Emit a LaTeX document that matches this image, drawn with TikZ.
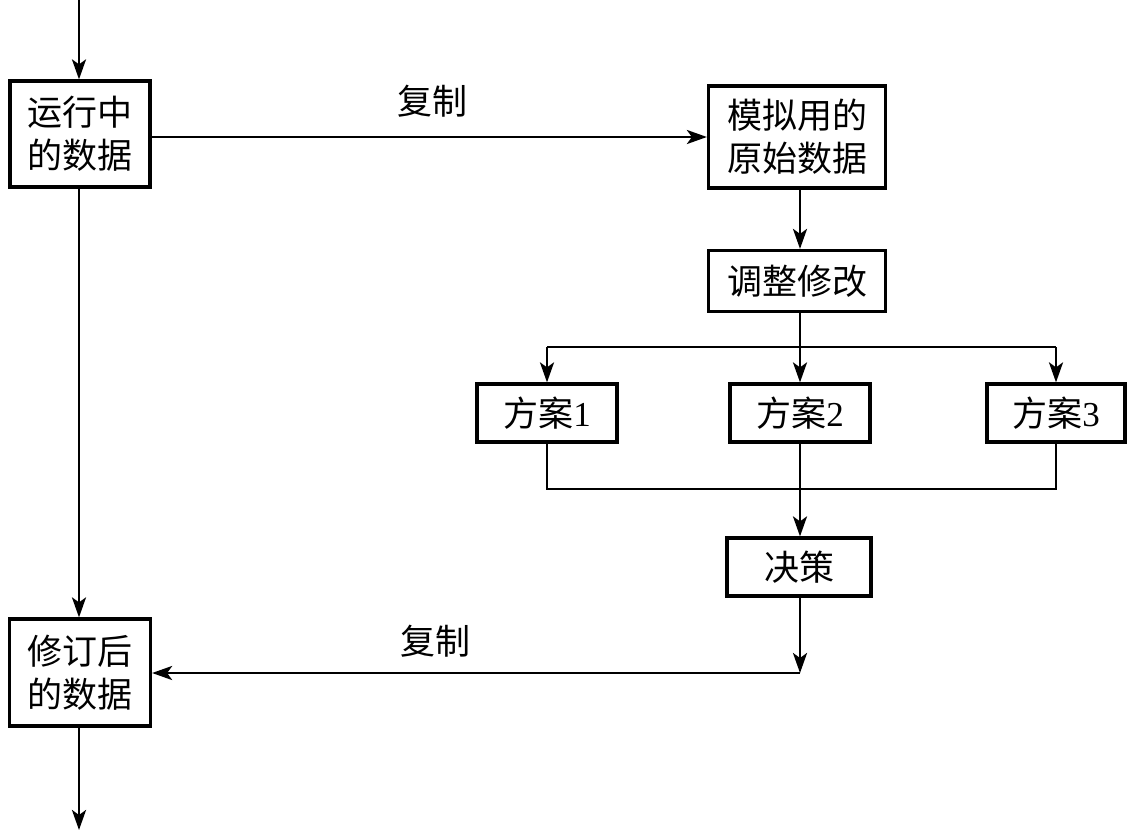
\documentclass[tikz,border=0pt]{standalone}
\usepackage{fontspec}
\setmainfont{Liberation Serif}
\newfontfamily\cjk{Noto Sans CJK SC}
\usetikzlibrary{arrows.meta,calc}
\tikzset{
  box/.style={draw, line width=3.2pt, inner sep=0pt, align=center,
    font=\fontsize{35}{43}\selectfont\cjk},
  arr/.style={line width=2.8pt, -{Stealth[length=20pt,width=14pt,inset=5pt]}},
  ln/.style={line width=2.8pt},
  lbl/.style={font=\fontsize{35}{40}\selectfont\cjk, inner sep=0pt}
}
\begin{document}
\begin{tikzpicture}[x=1pt,y=-1pt]
\useasboundingbox[fill=white] (0,0) rectangle (1131,838);
\coordinate (top) at (79,0);
\node[box, minimum width=140pt, minimum height=106pt] (yx) at (80,134) {运行中\\的数据};
\node[box, minimum width=177pt, minimum height=102pt] (mn) at (797,137) {模拟用的\\原始数据};
\node[box, minimum width=177pt, minimum height=61pt] (tz) at (797,281) {调整修改};
\node[box, minimum width=140pt, minimum height=58pt] (f1) at (547,413) {方案{\rmfamily 1}};
\node[box, minimum width=140pt, minimum height=58pt] (f2) at (800,413) {方案{\rmfamily 2}};
\node[box, minimum width=138pt, minimum height=58pt] (f3) at (1056,413) {方案{\rmfamily 3}};
\node[box, minimum width=144pt, minimum height=58pt] (jc) at (799,567) {决策};
\node[box, minimum width=141pt, minimum height=107pt] (xd) at (80,672.5) {修订后\\的数据};
\coordinate (bot) at (79,830);
\coordinate (split) at (800,347);
\coordinate (join) at (800,489);
\coordinate (corner) at (800,673);

\draw[arr] (top) -- (top |- yx.north);
\draw[arr] (yx.east |- mn.west) -- (mn.west);
\node[lbl] (c1) at (432,101) {复制};
\draw[arr] (mn.south -| split) -- (tz.north -| split);
\draw[ln] (tz.south -| split) -- (split);
\draw[ln] (split -| f1) -- (split -| f3);
\draw[arr] (split -| f1) -- (f1.north);
\draw[arr] (split) -- (f2.north);
\draw[arr] (split -| f3) -- (f3.north);
\draw[ln] (f1.south) -- (join -| f1) -- (join -| f3) -- (f3.south);
\draw[arr] (f2.south) -- (jc.north -| f2);
\draw[arr] (jc.south -| corner) -- (corner);
\draw[arr] (corner) -- (xd.east |- corner);
\node[lbl] (c2) at (435,641) {复制};
\draw[arr] (yx.south -| top) -- (xd.north -| top);
\draw[arr] (xd.south -| top) -- (bot);
\end{tikzpicture}
\end{document}
